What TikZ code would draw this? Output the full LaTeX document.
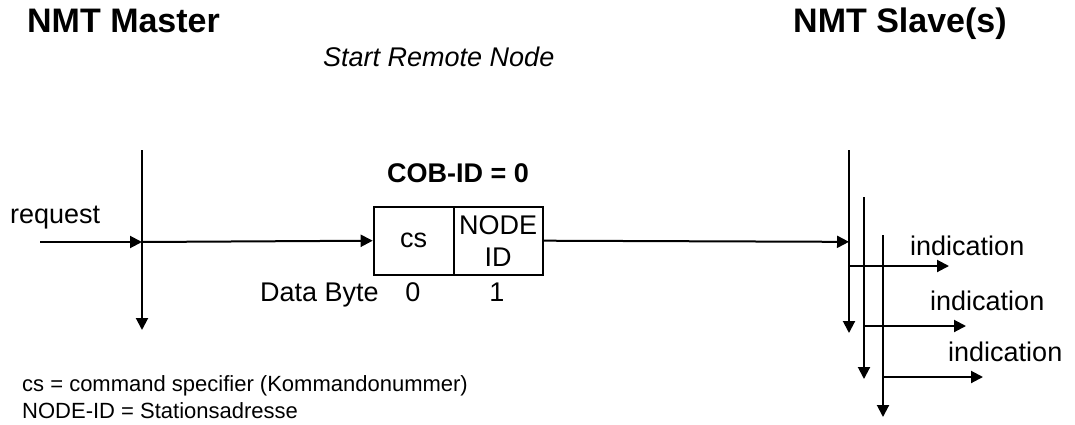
\documentclass[tikz,border=0pt]{standalone}
\usepackage{fontspec}
\setmainfont{Liberation Sans}
\usetikzlibrary{arrows.meta}
\begin{document}
\begin{tikzpicture}[x=1pt,y=-1pt,
  lbl/.style={inner sep=0pt,anchor=base west,font=\fontsize{27}{32}\selectfont},
  ttl/.style={inner sep=0pt,anchor=base west,font=\fontsize{34}{40}\selectfont\bfseries},
  note/.style={inner sep=0pt,anchor=base west,font=\fontsize{22}{27}\selectfont},
  cell/.style={draw,line width=2pt,fill=white,inner sep=0pt,minimum height=68pt,anchor=north west,align=center,font=\fontsize{27}{32}\selectfont},
  arr/.style={line width=2pt,-{Triangle[length=12pt,width=12pt]}}]
\useasboundingbox (0,0) rectangle (1075,425);
% titles
\node[ttl] (master) at (27,33) {NMT Master};
\node[ttl] (slave) at (793,33) {NMT Slave(s)};
\node[lbl,font=\fontsize{27}{32}\selectfont\itshape] (srn) at (323,67) {Start Remote Node};
\node[lbl,anchor=base,font=\fontsize{27}{32}\selectfont\bfseries] (cobid) at (458,182) {COB-ID = 0};
% request
\node[lbl] (req) at (10,223) {request};
% master line
\coordinate (mtop) at (142,150);
\coordinate (mbot) at (142,330);
\coordinate (reqstart) at (40,242);
\coordinate (mreq) at (142,242);
\draw[arr] (mtop) -- (mbot);
\draw[arr] (reqstart) -- (mreq);
% frame
\node[cell,minimum width=80pt] (cs) at (372.7,205.7) {cs};
\node[cell,minimum width=89pt] (nid) at (452.7,205.7) {NODE\\ID};
\draw[arr] (mreq) -- (cs.west);
\node[lbl] (db) at (260,301) {Data Byte};
\node[lbl,anchor=base] (b0) at (413,301) {0};
\node[lbl,anchor=base] (b1) at (497,301) {1};
% slave lines
\coordinate (s1top) at (849,150);
\coordinate (s1bot) at (849,333);
\coordinate (s2top) at (864,197);
\coordinate (s2bot) at (864,379);
\coordinate (s3top) at (883,235);
\coordinate (s3bot) at (883,417);
\coordinate (sin) at (849,241.85);
\draw[arr] (s1top) -- (s1bot);
\draw[arr] (s2top) -- (s2bot);
\draw[arr] (s3top) -- (s3bot);
\draw[arr] (nid.east) -- (sin);
% indications
\coordinate (i1s) at (849,266);
\coordinate (i1e) at (949,266);
\coordinate (i2s) at (864,326);
\coordinate (i2e) at (966,326);
\coordinate (i3s) at (883,377);
\coordinate (i3e) at (983,377);
\draw[arr] (i1s) -- (i1e);
\draw[arr] (i2s) -- (i2e);
\draw[arr] (i3s) -- (i3e);
\node[lbl] (ind1) at (910,255) {indication};
\node[lbl] (ind2) at (930,310) {indication};
\node[lbl] (ind3) at (948,361) {indication};
% notes
\node[note] (n1) at (22,391) {cs = command specifier (Kommandonummer)};
\node[note] (n2) at (22,418) {NODE-ID = Stationsadresse};
\end{tikzpicture}
\end{document}
